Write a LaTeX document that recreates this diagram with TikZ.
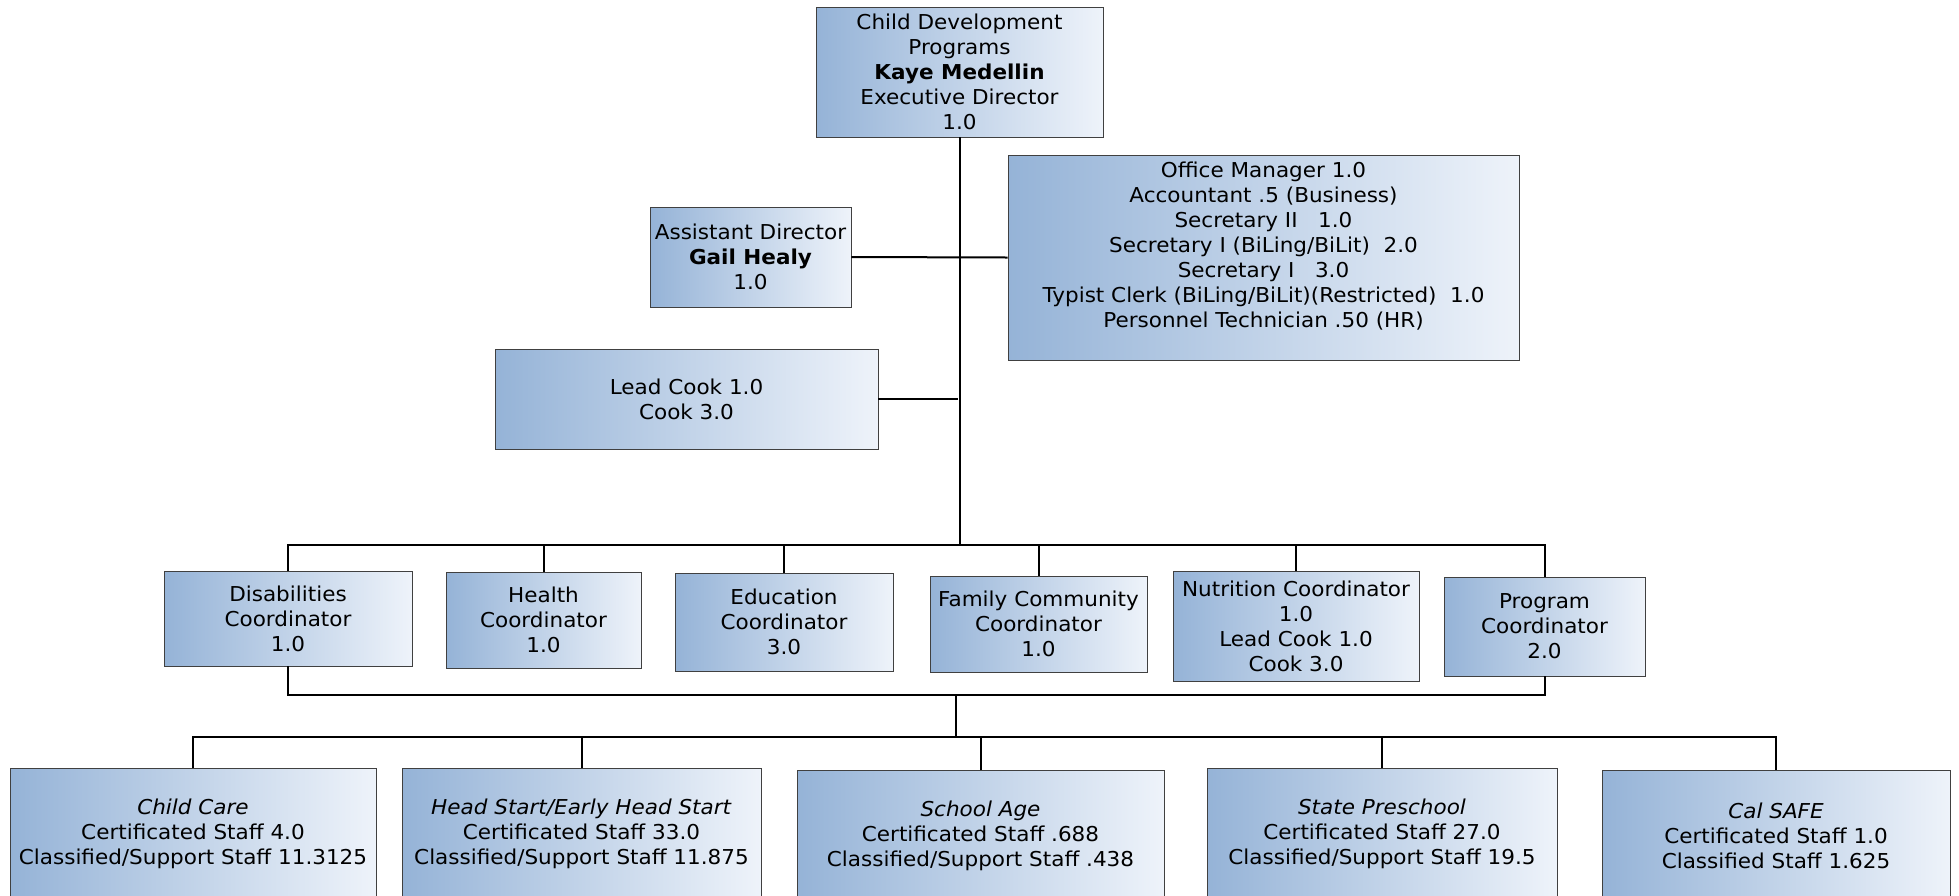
\documentclass[tikz,border=0pt]{standalone}
\usepackage{fontspec}
\setmainfont{DejaVu Sans}[FakeStretch=1.05]
\definecolor{boxL}{HTML}{95B3D7}
\definecolor{boxR}{HTML}{EEF3FA}
\definecolor{boxB}{HTML}{404040}
\tikzset{
  txt/.style={font=\fontsize{20.5}{25}\selectfont},
  box/.style={draw=boxB, line width=0.9pt, left color=boxL, right color=boxR, inner sep=0pt, align=center, text=black, txt},
  conn/.style={draw=black, line width=2pt},
}
\begin{document}
\begin{tikzpicture}[x=1pt,y=-1pt]
\clip (0,0) rectangle (1959,895);
\fill[white] (0,0) rectangle (1959,895);
% top level
\node[box, minimum width=287pt, minimum height=130pt] (top) at (959.5,72) {Child Development\\Programs\\\textbf{Kaye Medellin}\\Executive Director\\1.0};
\node[box, minimum width=511pt, minimum height=205pt] (office) at (1263.5,257.5) {};
\node[align=center, inner sep=0pt, txt] (officet) at (1263.5,246) {Office Manager 1.0\\Accountant .5 (Business)\\Secretary II\ \ \ 1.0\\Secretary I (BiLing/BiLit)\ \ 2.0\\Secretary I\ \ \ 3.0\\Typist Clerk (BiLing/BiLit)(Restricted)\ \ 1.0\\Personnel Technician .50 (HR)};
\node[box, minimum width=201pt, minimum height=100pt] (asst) at (750.5,257) {Assistant Director\\\textbf{Gail Healy}\\1.0};
\node[box, minimum width=383pt, minimum height=100pt] (cook) at (686.5,399) {Lead Cook 1.0\\Cook 3.0};
% coordinators
\node[box, minimum width=248pt, minimum height=95pt] (dis) at (288,618.5) {Disabilities\\Coordinator\\1.0};
\node[box, minimum width=195pt, minimum height=96pt] (health) at (543.5,620) {Health\\Coordinator\\1.0};
\node[box, minimum width=218pt, minimum height=98pt] (edu) at (784,622) {Education\\Coordinator\\3.0};
\node[box, minimum width=217pt, minimum height=96pt] (fam) at (1038.5,624) {Family Community\\Coordinator\\1.0};
\node[box, minimum width=246pt, minimum height=110pt] (nut) at (1296,626) {Nutrition Coordinator\\1.0\\Lead Cook 1.0\\Cook 3.0};
\node[box, minimum width=201pt, minimum height=99pt] (prog) at (1544.5,626.5) {Program\\Coordinator\\2.0};
% programs
\node[box, minimum width=366pt, minimum height=132pt] (cc) at (193,834) {\textit{Child Care}\\Certificated Staff 4.0\\Classified/Support Staff 11.3125};
\node[box, minimum width=359pt, minimum height=132pt] (hs) at (581.5,834) {\textit{Head Start/Early Head Start}\\Certificated Staff 33.0\\Classified/Support Staff 11.875};
\node[box, minimum width=367pt, minimum height=132pt] (sa) at (980.5,836) {\textit{School Age}\\Certificated Staff .688\\Classified/Support Staff .438};
\node[box, minimum width=350pt, minimum height=132pt] (sp) at (1382,834) {\textit{State Preschool}\\Certificated Staff 27.0\\Classified/Support Staff 19.5};
\node[box, minimum width=348pt, minimum height=132pt] (cal) at (1776,836) {\textit{Cal SAFE}\\Certificated Staff 1.0\\Classified Staff 1.625};
% connectors
\coordinate (bus1) at (958,545);
\coordinate (bus2) at (956,695);
\coordinate (bus3) at (956,737);
\draw[conn] (top.south) -- (top.south |- bus1);
\draw[conn] (asst.east) -- (office.west);
\draw[conn] (cook.east) -- (cook.east -| bus1);
\draw[conn] (dis.north) -- (dis.north |- bus1) -- (prog.north |- bus1) -- (prog.north);
\foreach \n in {health,edu,fam,nut} \draw[conn] (\n.north) -- (\n.north |- bus1);
\draw[conn] (dis.south) -- (dis.south |- bus2) -- (prog.south |- bus2) -- (prog.south);
\draw[conn] (bus2) -- (bus3);
\draw[conn] (cc.north) -- (cc.north |- bus3) -- (cal.north |- bus3) -- (cal.north);
\foreach \n in {hs,sa,sp} \draw[conn] (\n.north) -- (\n.north |- bus3);
\end{tikzpicture}
\end{document}
